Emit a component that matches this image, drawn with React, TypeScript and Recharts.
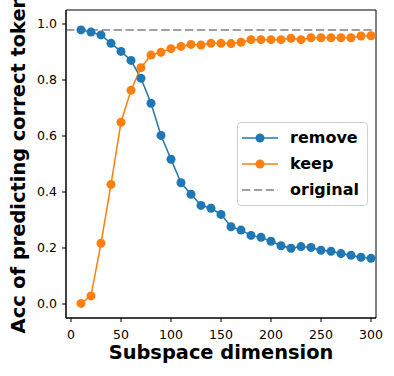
import { LineChart, Line, XAxis, YAxis, ReferenceLine, ReferenceArea, Legend } from "recharts";

const dims = [10, 20, 30, 40, 50, 60, 70, 80, 90, 100, 110, 120, 130, 140, 150, 160, 170, 180, 190, 200, 210, 220, 230, 240, 250, 260, 270, 280, 290, 300];
const removeAcc = [0.979, 0.971, 0.961, 0.931, 0.902, 0.87, 0.806, 0.717, 0.602, 0.517, 0.433, 0.392, 0.352, 0.342, 0.32, 0.276, 0.264, 0.245, 0.238, 0.224, 0.208, 0.199, 0.205, 0.202, 0.192, 0.188, 0.18, 0.174, 0.167, 0.163];
const keepAcc = [0.002, 0.029, 0.217, 0.427, 0.649, 0.763, 0.844, 0.889, 0.899, 0.912, 0.92, 0.927, 0.925, 0.931, 0.931, 0.93, 0.935, 0.944, 0.944, 0.944, 0.944, 0.949, 0.944, 0.951, 0.951, 0.951, 0.951, 0.951, 0.957, 0.958];
const originalAcc = 0.979;

const xTicks = [0, 50, 100, 150, 200, 250, 300];
const yTicks = [0, 0.2, 0.4, 0.6, 0.8, 1.0];

const BLUE = "#1f77b4";
const ORANGE = "#ff7f0e";
const GRAY = "#808080";
const FONT = "DejaVu Sans";

const data = dims.map((d, i) => ({ dim: d, remove: removeAcc[i], keep: keepAcc[i] }));

const legendItems = [
  { label: "remove", color: BLUE, dashed: false },
  { label: "keep", color: ORANGE, dashed: false },
  { label: "original", color: GRAY, dashed: true },
];

function LegendBox() {
  return (
    <div
      style={{
        width: 131,
        height: 84,
        boxSizing: "border-box",
        border: "1px solid #d0d0d0",
        borderRadius: 4,
        background: "rgba(255,255,255,0.85)",
        paddingTop: 2,
        fontFamily: FONT,
      }}
    >
      {legendItems.map((it) => (
        <div key={it.label} style={{ display: "flex", alignItems: "center", height: 26 }}>
          <svg width={36} height={26} style={{ marginLeft: 4 }}>
            <line
              x1={0}
              y1={13}
              x2={36}
              y2={13}
              stroke={it.color}
              strokeWidth={1.5}
              strokeDasharray={it.dashed ? "8.3 3.6" : undefined}
            />
            {!it.dashed && <circle cx={18} cy={13} r={4.5} fill={it.color} />}
          </svg>
          <span style={{ marginLeft: 12, fontSize: 16, fontWeight: "bold", color: "#000", lineHeight: "26px" }}>
            {it.label}
          </span>
        </div>
      ))}
    </div>
  );
}

export default function App() {
  return (
    <div style={{ position: "absolute", left: 0, top: 0, width: 394, height: 376, background: "#fff" }}>
      <LineChart width={394} height={376} data={data} margin={{ top: 10, right: 18, left: 0, bottom: 0 }}>
        <XAxis
          dataKey="dim"
          type="number"
          domain={[-5, 305]}
          ticks={xTicks}
          height={58}
          tickSize={4}
          tickMargin={8}
          stroke="#000"
          tick={{ fill: "#000", fontSize: 12.5, fontFamily: FONT }}
          label={(props: any) => {
            const vb = props.viewBox;
            return (
              <text
                x={vb.x + vb.width / 2}
                y={359}
                textAnchor="middle"
                fontFamily={FONT}
                fontWeight="bold"
                fontSize={19.4}
                fill="#000"
              >
                Subspace dimension
              </text>
            );
          }}
        />
        <YAxis
          type="number"
          domain={[-0.05, 1.05]}
          ticks={yTicks}
          width={66}
          tickSize={4}
          tickMargin={5}
          stroke="#000"
          tickFormatter={(v: number) => v.toFixed(1)}
          tick={{ fill: "#000", fontSize: 12.5, fontFamily: FONT }}
          label={(props: any) => {
            const vb = props.viewBox;
            const cx = 18;
            const cy = vb.y + vb.height / 2;
            return (
              <text
                x={cx}
                y={cy}
                textAnchor="middle"
                dominantBaseline="central"
                transform={`rotate(-90 ${cx} ${cy})`}
                fontFamily={FONT}
                fontWeight="bold"
                fontSize={19.4}
                fill="#000"
              >
                Acc of predicting correct token
              </text>
            );
          }}
        />
        <ReferenceArea x1={-5} x2={305} y1={-0.05} y2={1.05} fill="none" stroke="#000" strokeWidth={1} />
        <ReferenceLine y={originalAcc} stroke={GRAY} strokeWidth={1.5} strokeDasharray="8.3 3.6" />
        <Line
          dataKey="remove"
          stroke={BLUE}
          strokeWidth={1.5}
          dot={{ r: 4.5, fill: BLUE, stroke: BLUE, strokeWidth: 0 }}
          isAnimationActive={false}
        />
        <Line
          dataKey="keep"
          stroke={ORANGE}
          strokeWidth={1.5}
          dot={{ r: 4.5, fill: ORANGE, stroke: ORANGE, strokeWidth: 0 }}
          isAnimationActive={false}
        />
        <Legend
          layout="vertical"
          align="center"
          verticalAlign="middle"
          content={() => <LegendBox />}
          wrapperStyle={{ left: 237, top: 122, width: 131, height: 84 }}
        />
      </LineChart>
    </div>
  );
}
